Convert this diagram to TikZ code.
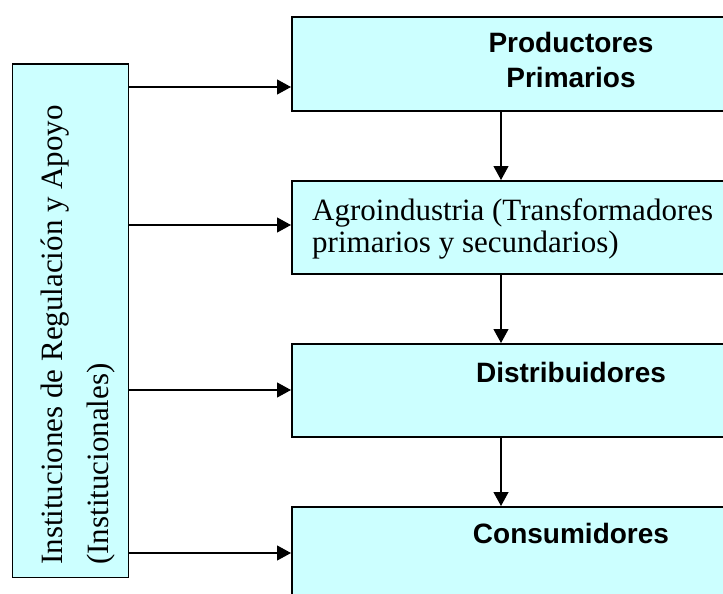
\documentclass[tikz,border=0pt]{standalone}
\usepackage{fontspec}
\setmainfont{Liberation Serif}
\newfontfamily\arialfont{Liberation Sans}
\usetikzlibrary{arrows.meta}
\definecolor{boxcyan}{HTML}{CCFFFF}
\begin{document}
\begin{tikzpicture}[x=1pt,y=-1pt,
  box/.style={draw=black, fill=boxcyan, line width=1.6pt, inner sep=0pt, anchor=north west},
  arr/.style={line width=1.2pt, -{Triangle[length=14pt,width=15pt]}},
  boldtxt/.style={font=\arialfont\bfseries\fontsize{28}{35}\selectfont, inner sep=0pt},
  seriftxt/.style={font=\fontsize{31}{32}\selectfont, inner sep=0pt}]
\useasboundingbox (0,0) rectangle (723,594);
\clip (0,0) rectangle (723,594);
\fill[white] (0,0) rectangle (723,594);
% boxes
\node[box, minimum width=116pt, minimum height=513pt] (inst) at (11.5,63.5) {};
\node[box, minimum width=569pt, minimum height=94pt] (prod) at (291,16) {};
\node[box, minimum width=569pt, minimum height=93pt] (agro) at (291,180) {};
\node[box, minimum width=569pt, minimum height=93pt] (dist) at (291,343) {};
\node[box, minimum width=569pt, minimum height=160pt] (cons) at (291,506) {};
% texts (base anchor = baseline of the last line)
\node[boldtxt, anchor=base, align=center] (prodtxt) at (571,88) {Productores\\Primarios};
\node[seriftxt, anchor=base west, align=left] (agrotxt) at (312,252) {Agroindustria (Transformadores\\primarios y secundarios)};
\node[boldtxt, anchor=base] (disttxt) at (571,382) {Distribuidores};
\node[boldtxt, anchor=base] (constxt) at (571,543) {Consumidores};
\node[inner sep=0pt, rotate=90, anchor=base west, align=left, font=\fontsize{31}{46}\selectfont] (insttxt) at (108,565) {Instituciones de Regulación y Apoyo\\(Institucionales)};
% horizontal arrows
\draw[arr] (inst.east |- 0,87) -- (prod.west |- 0,87);
\draw[arr] (inst.east |- 0,225) -- (agro.west |- 0,225);
\draw[arr] (inst.east |- 0,390) -- (dist.west |- 0,390);
\draw[arr] (inst.east |- 0,553) -- (cons.west |- 0,553);
% vertical arrows
\draw[arr] (prod.south -| 501,0) -- (agro.north -| 501,0);
\draw[arr] (agro.south -| 501,0) -- (dist.north -| 501,0);
\draw[arr] (dist.south -| 501,0) -- (cons.north -| 501,0);
\end{tikzpicture}
\end{document}
